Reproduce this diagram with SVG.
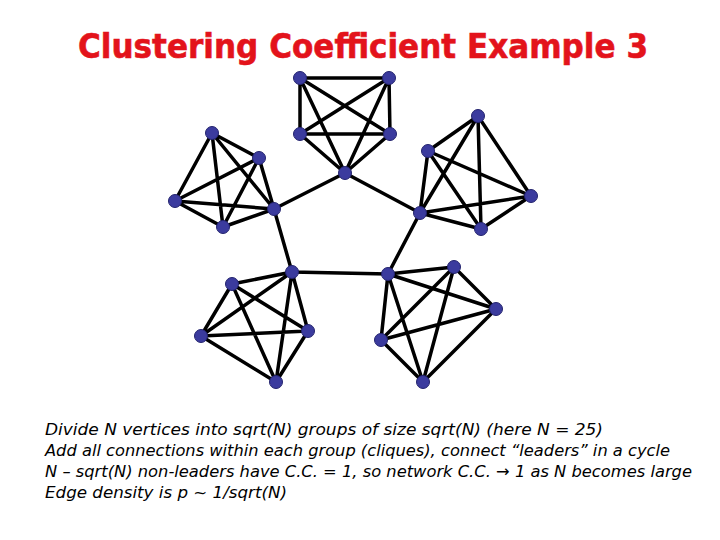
<svg xmlns="http://www.w3.org/2000/svg" width="720" height="540" viewBox="0 0 720 540">
<style>
.title{font-family:"DejaVu Sans","Liberation Sans",sans-serif;font-weight:700;font-size:33px;fill:#e3131b;stroke:#e3131b;stroke-width:0.6}
.body{font-family:"DejaVu Sans","Liberation Sans",sans-serif;font-style:italic;font-size:16px;fill:#000}
.e{stroke:#000;stroke-width:3.5;stroke-linecap:round;fill:none}
.n{fill:#3b3b9e;stroke:#23236e;stroke-width:1}
</style>
<rect width="720" height="540" fill="#fff"/>
<text class="title" x="78" y="58" textLength="570" lengthAdjust="spacingAndGlyphs">Clustering Coefficient Example 3</text>
<g id="connectors">
<!-- top clique -->
<path class="e" d="M300,78L389,78M300,78L300,134M300,78L390,134M300,78L345,173M389,78L300,134M389,78L390,134M389,78L345,173M300,134L390,134M300,134L345,173M390,134L345,173"/>
<!-- left-top clique -->
<path class="e" d="M212,133L259,158M212,133L175,201M212,133L223,227M212,133L274,209M259,158L175,201M259,158L223,227M259,158L274,209M175,201L223,227M175,201L274,209M223,227L274,209"/>
<!-- right-top clique -->
<path class="e" d="M478,116L428,151M478,116L531,196M478,116L420,213M478,116L481,229M428,151L531,196M428,151L420,213M428,151L481,229M531,196L420,213M531,196L481,229M420,213L481,229"/>
<!-- bottom-left clique -->
<path class="e" d="M292,272L232,284M292,272L201,336M292,272L308,331M292,272L276,382M232,284L201,336M232,284L308,331M232,284L276,382M201,336L308,331M201,336L276,382M308,331L276,382"/>
<!-- bottom-right clique -->
<path class="e" d="M388,274L454,267M388,274L496,309M388,274L381,340M388,274L423,382M454,267L496,309M454,267L381,340M454,267L423,382M496,309L381,340M496,309L423,382M381,340L423,382"/>
<!-- leader cycle -->
<path class="e" d="M345,173L274,209M345,173L420,213M274,209L292,272M420,213L388,274M292,272L388,274"/>
</g>
<g id="clique-top">
<circle class="n" cx="300" cy="78" r="6.5"/><circle class="n" cx="389" cy="78" r="6.5"/><circle class="n" cx="300" cy="134" r="6.5"/><circle class="n" cx="390" cy="134" r="6.5"/><circle class="n" cx="345" cy="173" r="6.5"/>
</g>
<g id="clique-left-top">
<circle class="n" cx="212" cy="133" r="6.5"/><circle class="n" cx="259" cy="158" r="6.5"/><circle class="n" cx="175" cy="201" r="6.5"/><circle class="n" cx="223" cy="227" r="6.5"/><circle class="n" cx="274" cy="209" r="6.5"/>
</g>
<g id="clique-right-top">
<circle class="n" cx="478" cy="116" r="6.5"/><circle class="n" cx="428" cy="151" r="6.5"/><circle class="n" cx="531" cy="196" r="6.5"/><circle class="n" cx="420" cy="213" r="6.5"/><circle class="n" cx="481" cy="229" r="6.5"/>
</g>
<g id="clique-bottom-left">
<circle class="n" cx="292" cy="272" r="6.5"/><circle class="n" cx="232" cy="284" r="6.5"/><circle class="n" cx="201" cy="336" r="6.5"/><circle class="n" cx="308" cy="331" r="6.5"/><circle class="n" cx="276" cy="382" r="6.5"/>
</g>
<g id="clique-bottom-right">
<circle class="n" cx="388" cy="274" r="6.5"/><circle class="n" cx="454" cy="267" r="6.5"/><circle class="n" cx="496" cy="309" r="6.5"/><circle class="n" cx="381" cy="340" r="6.5"/><circle class="n" cx="423" cy="382" r="6.5"/>
</g>
<g id="caption">
<text class="body" x="45" y="435" textLength="558" lengthAdjust="spacingAndGlyphs">Divide N vertices into sqrt(N) groups of size sqrt(N) (here N = 25)</text>
<text class="body" x="45" y="456" textLength="625" lengthAdjust="spacingAndGlyphs">Add all connections within each group (cliques), connect “leaders” in a cycle</text>
<text class="body" x="45" y="477" textLength="647" lengthAdjust="spacingAndGlyphs">N – sqrt(N) non-leaders have C.C. = 1, so network C.C. → 1 as N becomes large</text>
<text class="body" x="45" y="498" textLength="242" lengthAdjust="spacingAndGlyphs">Edge density is p ~ 1/sqrt(N)</text>
</g>
</svg>
